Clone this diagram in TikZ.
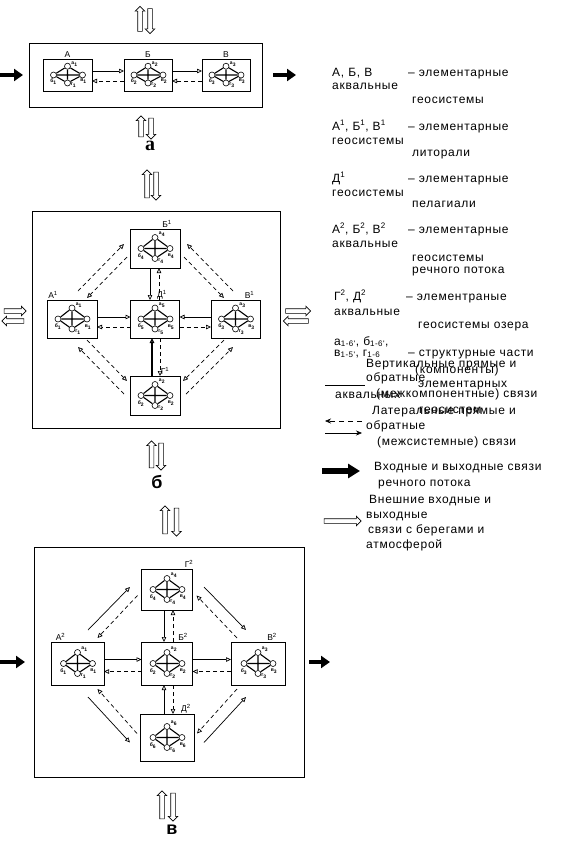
\documentclass[tikz,border=0pt]{standalone}
\usepackage{fontspec}
\setmainfont{Liberation Sans}
\newfontfamily\legendfont{Liberation Sans}[LetterSpace=6]
\newfontfamily\serifcap{Liberation Serif}
\usetikzlibrary{arrows.meta,shapes.arrows}

% diamond of components inside one aqual geosystem box
\newcommand\aqgraph[3]{%
  \begin{scope}[shift={(#1.center)}, yscale=#3]
    \node[comp] (#1a) at (0,-11) {};
    \node[comp] (#1b) at (-14,0) {};
    \node[comp] (#1v) at (15,0) {};
    \node[comp] (#1g) at (0,10) {};
    \draw[graphline] (#1a) -- (#1b) -- (#1g) -- (#1v) -- (#1a) -- (#1g) (#1b) -- (#1v);
    \node[complab] (#1la) at (7,-14) {а\textsubscript{#2}};
    \node[complab] (#1lb) at (-14,8) {б\textsubscript{#2}};
    \node[complab] (#1lv) at (16,8) {в\textsubscript{#2}};
    \node[complab] (#1lg) at (6,13) {г\textsubscript{#2}};
  \end{scope}}

\begin{document}
\begin{tikzpicture}[
        x=1pt,
        y=-1pt,
        aqbox/.style={draw, line width=0.8pt, inner sep=0pt, outer sep=0pt},
        sectionframe/.style={draw, line width=0.9pt, inner sep=0pt, outer sep=0pt},
        comp/.style={circle, draw, fill=white, line width=0.6pt, minimum size=6pt, inner sep=0pt},
        graphline/.style={line width=1.1pt},
        complab/.style={font=\fontsize{5}{5}\selectfont\bfseries, inner sep=0pt},
        boxlab/.style={font=\fontsize{8.5}{8.5}\selectfont, inner sep=1pt, anchor=south},
        directlink/.style={line width=0.7pt, -{Triangle[open, length=5pt, width=4.5pt]}},
        backlink/.style={directlink, dash pattern=on 4pt off 3pt},
        riverflow/.style={line width=4.5pt, -{Triangle[length=9pt, width=12pt]}},
        extflow/.style={single arrow, draw, fill=white, line width=0.6pt, minimum height=#1, minimum width=9pt, single arrow head extend=2.5pt, inner sep=2pt},
        legtext/.style={anchor=base west, inner sep=0pt, font=\legendfont\fontsize{12}{13}\selectfont}
    ]
    \useasboundingbox (0,0) rectangle (578,844);

    % frames of the three schemes
    \node[sectionframe, minimum width=233, minimum height=64] (frameA) at (145.5,75) {};
    \node[sectionframe, minimum width=248, minimum height=217] (frameB) at (156,319.5) {};
    \node[sectionframe, minimum width=270, minimum height=230] (frameV) at (169,662) {};

    % geosystem boxes
    \foreach \name/\cx/\cy/\w/\h/\idx/\sy in {
            A0/67.5/75/49/32/1/0.8,
            B0/148/75/48/32/2/0.8,
            V0/226/75/48/32/3/0.8,
            B1/155/248.5/50/39/4/1,
            A1/72/319/50/38/1/1,
            D1/155/319/49/38/5/1,
            V1/235.5/319/49/38/3/1,
            G1/155/395.5/50/39/2/1,
            G2/167/589.5/51/41/4/1,
            A2/77.5/663.5/53/43/1/1,
            B2/167/663.5/51/43/2/1,
            V2/258/663.5/54/43/3/1,
            D2/167/737.5/54/47/6/1
        } {
            \node[aqbox, minimum width=\w, minimum height=\h] (\name) at (\cx,\cy) {};
            \aqgraph{\name}{\idx}{\sy}
        }
    \foreach \name/\dx/\txt in {
            A0/0/А, B0/0/Б, V0/0/В,
            B1/12/Б\textsuperscript{1}, A1/-19/А\textsuperscript{1}, D1/7/Д\textsuperscript{1},
            V1/14/В\textsuperscript{1}, G1/10/Г\textsuperscript{1},
            G2/22/Г\textsuperscript{2}, A2/-17/А\textsuperscript{2}, B2/16/Б\textsuperscript{2},
            V2/14/В\textsuperscript{2}, D2/19/Д\textsuperscript{2}
        } {
            \node[boxlab] (lab\name) at ([xshift=\dx]\name.north) {\txt};
        }

    % scheme a
    \draw[directlink] ([yshift=4pt]A0.east) -- ([yshift=4pt]B0.west);
    \draw[backlink] ([yshift=-6pt]B0.west) -- ([yshift=-6pt]A0.east);
    \draw[directlink] ([yshift=4pt]B0.east) -- ([yshift=4pt]V0.west);
    \draw[backlink] ([yshift=-6pt]V0.west) -- ([yshift=-6pt]B0.east);
    \coordinate (inA) at (0,75);
    \coordinate (outA) at (296,75);
    \draw[riverflow] (inA) -- ([xshift=-6pt]frameA.west);
    \draw[riverflow] ([xshift=11pt]frameA.east) -- (outA);
    \node[extflow=25, rotate=90] (aTopUp) at (140,20) {};
    \node[extflow=25, rotate=-90] (aTopDown) at (150,20) {};
    \node[extflow=21, rotate=90] (aBotUp) at (141,127.5) {};
    \node[extflow=21, rotate=-90] (aBotDown) at (151,127.5) {};
    \node[font=\serifcap\bfseries\fontsize{20}{20}\selectfont, inner sep=0pt] (labelA) at (150,146) {а};

    % scheme b
    \draw[directlink] ([xshift=-5pt]B1.south) -- ([xshift=-5pt]D1.north);
    \draw[backlink] ([xshift=4pt]D1.north) -- ([xshift=4pt]B1.south);
    \draw[directlink] ([yshift=2pt]A1.east) -- ([yshift=2pt]D1.west);
    \draw[backlink] ([yshift=-8pt]D1.west) -- ([yshift=-8pt]A1.east);
    \draw[directlink] ([yshift=2pt]V1.west) -- ([yshift=2pt]D1.east);
    \draw[backlink] ([yshift=-8pt]D1.east) -- ([yshift=-8pt]V1.west);
    \draw[directlink, line width=1.1pt] ([xshift=-3pt]G1.north) -- ([xshift=-3pt]D1.south);
    \draw[backlink] ([xshift=5pt]D1.south) -- ([xshift=5pt]G1.north);
    \draw[backlink] ([shift={(6,-9)}]A1.north) -- ([shift={(-6,-4.5)}]B1.west);
    \draw[backlink] ([shift={(-3,8.5)}]B1.west) -- ([shift={(15,-2)}]A1.north);
    \draw[backlink] ([shift={(-2.5,-9)}]V1.north) -- ([shift={(7,-4.5)}]B1.east);
    \draw[backlink] ([shift={(4,8.5)}]B1.east) -- ([shift={(-11.5,-2)}]V1.north);
    \draw[backlink] ([shift={(-6,-1.5)}]G1.west) -- ([shift={(6,9)}]A1.south);
    \draw[backlink] ([shift={(15,2)}]A1.south) -- ([shift={(-3,-14.5)}]G1.west);
    \draw[backlink] ([shift={(6,-1.5)}]G1.east) -- ([shift={(-2.5,9)}]V1.south);
    \draw[backlink] ([shift={(-11.5,2)}]V1.south) -- ([shift={(3,-14.5)}]G1.east);
    \node[extflow=28, rotate=90] (bTopUp) at (147,185) {};
    \node[extflow=28, rotate=-90] (bTopDown) at (156,185) {};
    \node[extflow=22, rotate=0] (bLeftIn) at (14,311) {};
    \node[extflow=22, rotate=180] (bLeftOut) at (14,321) {};
    \node[extflow=25, rotate=0] (bRightOut) at (297,311) {};
    \node[extflow=25, rotate=180] (bRightIn) at (297,321) {};
    \node[extflow=27, rotate=90] (bBotUp) at (151.5,455.5) {};
    \node[extflow=27, rotate=-90] (bBotDown) at (161,455.5) {};
    \node[font=\bfseries\fontsize{18}{18}\selectfont, inner sep=0pt] (labelB) at (157,482) {б};

    % scheme v
    \draw[directlink] ([yshift=4pt]A2.east) -- ([yshift=4pt]B2.west);
    \draw[backlink] ([yshift=-8pt]B2.west) -- ([yshift=-8pt]A2.east);
    \draw[directlink] ([yshift=4pt]B2.east) -- ([yshift=4pt]V2.west);
    \draw[backlink] ([yshift=-8pt]V2.west) -- ([yshift=-8pt]B2.east);
    \draw[directlink] ([xshift=-3pt]G2.south) -- ([xshift=-3pt]B2.north);
    \draw[backlink] ([xshift=6pt]B2.north) -- ([xshift=6pt]G2.south);
    \draw[directlink] ([xshift=-3pt]D2.north) -- ([xshift=-3pt]B2.south);
    \draw[backlink] ([xshift=6pt]B2.south) -- ([xshift=6pt]D2.north);
    \draw[directlink] ([shift={(10.5,-12)}]A2.north) -- ([shift={(-11.5,-2.5)}]G2.west);
    \draw[backlink] ([shift={(-4,6)}]G2.west) -- ([shift={(20,-4)}]A2.north);
    \draw[directlink] ([shift={(11.5,-2.5)}]G2.east) -- ([shift={(-12,-12)}]V2.north);
    \draw[backlink] ([shift={(-21,-4)}]V2.north) -- ([shift={(4,6)}]G2.east);
    \draw[directlink] ([shift={(10.5,12)}]A2.south) -- ([shift={(-10,5)}]D2.west);
    \draw[backlink] ([shift={(-3,-4)}]D2.west) -- ([shift={(20,4)}]A2.south);
    \draw[directlink] ([shift={(10,5)}]D2.east) -- ([shift={(-12,12)}]V2.south);
    \draw[backlink] ([shift={(-21,4)}]V2.south) -- ([shift={(3,-4)}]D2.east);
    \coordinate (inV) at (0,662);
    \coordinate (outV) at (330,662);
    \draw[riverflow] (inV) -- ([xshift=-9pt]frameV.west);
    \draw[riverflow] ([xshift=5pt]frameV.east) -- (outV);
    \node[extflow=28, rotate=90] (vTopUp) at (165,521) {};
    \node[extflow=28, rotate=-90] (vTopDown) at (176.5,521) {};
    \node[extflow=28, rotate=90] (vBotUp) at (162,806) {};
    \node[extflow=28, rotate=-90] (vBotDown) at (173,806) {};
    \node[font=\bfseries\fontsize{18}{18}\selectfont, inner sep=0pt] (labelV) at (172,830) {в};

    % legend
    \foreach \x/\y/\txt [count=\i] in {
            332/76/{А, Б, В},
            408/76/{– элементарные},
            332/89/{аквальные},
            412/103/{геосистемы},
            332/130/{А\textsuperscript{1}, Б\textsuperscript{1}, В\textsuperscript{1}},
            408/130/{– элементарные},
            332/144/{геосистемы},
            412/156/{литорали},
            332/182/{Д\textsuperscript{1}},
            408/182/{– элементарные},
            332/196/{геосистемы},
            412/207/{пелагиали},
            332/233/{А\textsuperscript{2}, Б\textsuperscript{2}, В\textsuperscript{2}},
            408/233/{– элементарные},
            332/247/{аквальные},
            412/261/{геосистемы},
            412/273/{речного потока},
            334/300/{Г\textsuperscript{2}, Д\textsuperscript{2}},
            406/300/{– элементраные},
            334/315/{аквальные},
            418/328/{геосистемы озера},
            334/345/{а\textsubscript{1-6'}, б\textsubscript{1-6'},},
            334/356/{в\textsubscript{1-5'}, г\textsubscript{1-6}},
            408/356/{– структурные части},
            366/367/{Вертикальные прямые и},
            415/373/{(компоненты)},
            366/381/{обратные},
            418/387/{элементарных},
            376/397/{(межкомпонентные) связи},
            335/398/{аквальных},
            419/413/{геосистем},
            372/414/{Латеральные прямые и},
            366/429/{обратные},
            377/445/{(межсистемные) связи},
            374/470/{Входные и выходные связи},
            378/486/{речного потока},
            369/503/{Внешние входные и},
            366/518/{выходные},
            368/533/{связи с берегами и},
            366/548/{атмосферой}
        } {
            \node[legtext] (leg\i) at (\x,\y) {\txt};
        }
    \coordinate (legVert1) at (325,385);
    \coordinate (legVert2) at (365,385);
    \draw[line width=0.6pt] (legVert1) -- (legVert2);
    \coordinate (legLat1) at (362,421);
    \coordinate (legLat2) at (325,421);
    \draw[line width=0.6pt, dash pattern=on 5pt off 4pt, -{Stealth[length=6pt, width=5pt]}] (legLat1) -- (legLat2);
    \coordinate (legLat3) at (325,433);
    \coordinate (legLat4) at (362,433);
    \draw[line width=0.6pt, -{Stealth[length=6pt, width=5pt]}] (legLat3) -- (legLat4);
    \coordinate (legRiver1) at (322,471);
    \coordinate (legRiver2) at (360,471);
    \draw[line width=6pt, -{Triangle[length=12pt, width=14pt]}] (legRiver1) -- (legRiver2);
    \node[extflow=37] (legExt) at (341.5,521) {};
\end{tikzpicture}
\end{document}
